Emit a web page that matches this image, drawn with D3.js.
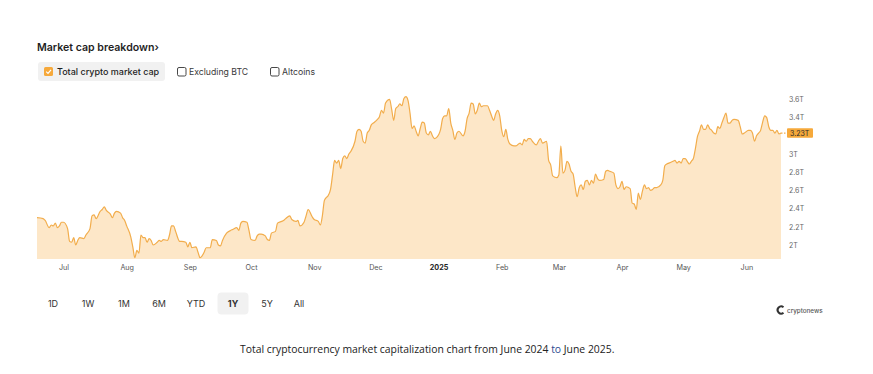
<!DOCTYPE html>
<html>
<head>
<meta charset="utf-8">
<script src="https://cdn.jsdelivr.net/npm/d3@7"></script>
<style>
  body { margin: 0; background: #fff; }
  svg { display: block; font-family: Inter, "Noto Sans", sans-serif; }
</style>
</head>
<body>
<div id="chart"></div>
<script>
// total crypto market cap, trillions USD
var dates = [
  "2024-06-18","2024-06-21","2024-06-22","2024-06-24","2024-06-25","2024-06-26","2024-06-27","2024-06-28","2024-06-29","2024-06-30",
  "2024-07-01","2024-07-03","2024-07-04","2024-07-05","2024-07-06","2024-07-07","2024-07-08","2024-07-09","2024-07-11","2024-07-12",
  "2024-07-14","2024-07-15","2024-07-16","2024-07-17","2024-07-19","2024-07-20","2024-07-21","2024-07-22","2024-07-24","2024-07-25",
  "2024-07-26","2024-07-27","2024-07-29","2024-07-30","2024-07-31","2024-08-01","2024-08-03","2024-08-04","2024-08-05","2024-08-06",
  "2024-08-07","2024-08-08","2024-08-09","2024-08-10","2024-08-11","2024-08-12","2024-08-13","2024-08-14","2024-08-16","2024-08-17",
  "2024-08-18","2024-08-19","2024-08-21","2024-08-22","2024-08-23","2024-08-24","2024-08-25","2024-08-27","2024-08-28","2024-08-30",
  "2024-08-31","2024-09-01","2024-09-02","2024-09-04","2024-09-05","2024-09-06","2024-09-07","2024-09-08","2024-09-09","2024-09-11",
  "2024-09-12","2024-09-14","2024-09-15","2024-09-16","2024-09-17","2024-09-19","2024-09-21","2024-09-22","2024-09-24","2024-09-25",
  "2024-09-26","2024-09-27","2024-09-29","2024-09-30","2024-10-01","2024-10-03","2024-10-04","2024-10-05","2024-10-06","2024-10-08",
  "2024-10-09","2024-10-10","2024-10-11","2024-10-13","2024-10-14","2024-10-16","2024-10-17","2024-10-18","2024-10-20","2024-10-21",
  "2024-10-23","2024-10-24","2024-10-25","2024-10-27","2024-10-28","2024-10-29","2024-10-31","2024-11-01","2024-11-03","2024-11-04",
  "2024-11-05","2024-11-06","2024-11-08","2024-11-09","2024-11-10","2024-11-11","2024-11-12","2024-11-13","2024-11-14","2024-11-15",
  "2024-11-16","2024-11-17","2024-11-18","2024-11-19","2024-11-21","2024-11-22","2024-11-23","2024-11-24","2024-11-25","2024-11-26",
  "2024-11-27","2024-11-28","2024-11-29","2024-11-30","2024-12-02","2024-12-03","2024-12-04","2024-12-05","2024-12-06","2024-12-08",
  "2024-12-09","2024-12-10","2024-12-11","2024-12-12","2024-12-13","2024-12-14","2024-12-15","2024-12-16","2024-12-17","2024-12-18",
  "2024-12-19","2024-12-20","2024-12-21","2024-12-22","2024-12-23","2024-12-24","2024-12-25","2024-12-26","2024-12-27","2024-12-28",
  "2024-12-29","2024-12-30","2024-12-31","2025-01-02","2025-01-03","2025-01-04","2025-01-05","2025-01-06","2025-01-07","2025-01-08",
  "2025-01-09","2025-01-10","2025-01-11","2025-01-13","2025-01-14","2025-01-15","2025-01-16","2025-01-17","2025-01-18","2025-01-19",
  "2025-01-20","2025-01-21","2025-01-22","2025-01-23","2025-01-25","2025-01-26","2025-01-27","2025-01-28","2025-01-29","2025-01-30",
  "2025-01-31","2025-02-01","2025-02-02","2025-02-03","2025-02-04","2025-02-05","2025-02-07","2025-02-08","2025-02-10","2025-02-11",
  "2025-02-12","2025-02-13","2025-02-14","2025-02-15","2025-02-16","2025-02-18","2025-02-19","2025-02-20","2025-02-21","2025-02-23",
  "2025-02-24","2025-02-25","2025-02-26","2025-02-28","2025-03-01","2025-03-02","2025-03-03","2025-03-04","2025-03-05","2025-03-06",
  "2025-03-07","2025-03-08","2025-03-09","2025-03-10","2025-03-11","2025-03-12","2025-03-13","2025-03-14","2025-03-15","2025-03-16",
  "2025-03-17","2025-03-18","2025-03-19","2025-03-20","2025-03-21","2025-03-23","2025-03-24","2025-03-25","2025-03-26","2025-03-28",
  "2025-03-29","2025-03-30","2025-03-31","2025-04-01","2025-04-02","2025-04-03","2025-04-05","2025-04-06","2025-04-07","2025-04-08",
  "2025-04-09","2025-04-10","2025-04-11","2025-04-12","2025-04-13","2025-04-14","2025-04-15","2025-04-16","2025-04-17","2025-04-18",
  "2025-04-20","2025-04-21","2025-04-22","2025-04-23","2025-04-24","2025-04-26","2025-04-27","2025-04-28","2025-04-29","2025-04-30",
  "2025-05-01","2025-05-02","2025-05-03","2025-05-04","2025-05-05","2025-05-06","2025-05-07","2025-05-08","2025-05-09","2025-05-10",
  "2025-05-11","2025-05-12","2025-05-13","2025-05-14","2025-05-15","2025-05-16","2025-05-17","2025-05-18","2025-05-19","2025-05-20",
  "2025-05-21","2025-05-22","2025-05-23","2025-05-24","2025-05-25","2025-05-26","2025-05-28","2025-05-29","2025-05-30","2025-05-31",
  "2025-06-02","2025-06-03","2025-06-04","2025-06-05","2025-06-06","2025-06-07","2025-06-08","2025-06-09","2025-06-10","2025-06-11",
  "2025-06-12","2025-06-13","2025-06-14","2025-06-15","2025-06-16","2025-06-17","2025-06-18"
];
var capT = [
  2.30,2.29,2.27,2.19,2.22,2.21,2.24,2.19,2.21,2.25,
  2.25,2.18,2.04,2.03,2.08,2.00,2.05,2.08,2.07,2.11,
  2.18,2.32,2.33,2.29,2.37,2.39,2.42,2.38,2.34,2.30,
  2.35,2.37,2.35,2.30,2.27,2.21,2.09,1.98,1.86,1.94,
  1.91,2.11,2.08,2.08,2.03,2.07,2.05,2.00,2.03,2.05,
  2.04,2.06,2.05,2.11,2.21,2.21,2.15,2.04,2.04,2.03,
  1.98,2.03,1.97,1.98,1.92,1.86,1.88,1.92,1.97,1.97,
  2.06,2.05,2.00,1.99,2.05,2.13,2.16,2.17,2.19,2.16,
  2.24,2.26,2.25,2.16,2.06,2.05,2.10,2.12,2.12,2.10,
  2.06,2.05,2.13,2.15,2.24,2.26,2.27,2.29,2.32,2.28,
  2.26,2.27,2.21,2.25,2.32,2.39,2.31,2.28,2.26,2.22,
  2.32,2.49,2.55,2.61,2.77,2.93,2.90,2.93,2.84,2.95,
  2.98,2.95,3.00,3.03,3.14,3.25,3.27,3.25,3.14,3.12,
  3.23,3.26,3.32,3.34,3.38,3.41,3.48,3.45,3.56,3.60,
  3.49,3.37,3.50,3.52,3.55,3.53,3.61,3.63,3.59,3.45,
  3.28,3.31,3.25,3.20,3.28,3.35,3.34,3.23,3.21,3.25,
  3.20,3.17,3.18,3.27,3.39,3.42,3.42,3.50,3.34,3.26,
  3.16,3.23,3.25,3.20,3.25,3.39,3.45,3.56,3.55,3.44,
  3.48,3.56,3.52,3.53,3.53,3.48,3.42,3.37,3.44,3.48,
  3.42,3.26,3.19,3.27,3.16,3.11,3.09,3.09,3.12,3.10,
  3.16,3.14,3.17,3.17,3.14,3.10,3.14,3.17,3.12,3.14,
  2.93,2.88,2.76,2.74,2.77,3.09,2.79,2.82,2.92,2.89,
  2.81,2.78,2.64,2.53,2.63,2.66,2.61,2.70,2.71,2.66,
  2.71,2.68,2.78,2.73,2.71,2.72,2.81,2.82,2.81,2.79,
  2.66,2.62,2.64,2.70,2.61,2.64,2.62,2.46,2.45,2.39,
  2.57,2.50,2.59,2.66,2.62,2.63,2.60,2.61,2.63,2.63,
  2.66,2.71,2.87,2.89,2.90,2.92,2.93,2.90,2.92,2.90,
  2.95,2.95,2.92,2.89,2.92,2.95,3.06,3.19,3.25,3.32,
  3.27,3.27,3.32,3.28,3.26,3.23,3.22,3.30,3.28,3.34,
  3.40,3.45,3.34,3.34,3.37,3.38,3.37,3.30,3.22,3.23,
  3.26,3.26,3.23,3.14,3.20,3.23,3.26,3.35,3.42,3.40,
  3.30,3.26,3.26,3.23,3.26,3.22,3.23
];
var yTicks = [2, 2.2, 2.4, 2.6, 2.8, 3, 3.4, 3.6];
var seriesNames = ["Total crypto market cap", "Excluding BTC", "Altcoins"];
var ranges = ["1D", "1W", "1M", "6M", "YTD", "1Y", "5Y", "All"];
var activeRange = "1Y";

var fullWidth = 873, fullHeight = 374;
var margin = {top: 90, right: 92, bottom: 115, left: 37};
var width = fullWidth - margin.left - margin.right;
var height = fullHeight - margin.top - margin.bottom;

var parse = d3.utcParse("%Y-%m-%d");
var data = dates.map(function(d, i) { return {date: parse(d), v: capT[i]}; });

var svg = d3.select("#chart").append("svg")
  .attr("width", fullWidth)
  .attr("height", fullHeight);

// title + series toggles
svg.append("text")
  .attr("x", 37).attr("y", 50.5)
  .attr("font-size", 10.6).attr("font-weight", 600).attr("fill", "#1f1f1f")
  .text("Market cap breakdown\u203A");

var legend = svg.append("g");
legend.append("rect").attr("x", 38).attr("y", 62).attr("width", 127).attr("height", 19)
  .attr("rx", 3).attr("fill", "#f1f1f1");
var legX = [44, 177, 270];
seriesNames.forEach(function(name, i) {
  var lg = legend.append("g").attr("transform", "translate(" + legX[i] + ",67)");
  if (i == 0) {
    lg.append("rect").attr("width", 9).attr("height", 9).attr("rx", 1.5).attr("fill", "#f6a93b");
    lg.append("path").attr("d", "M2.2,4.6 L4,6.4 L7,2.8").attr("fill", "none")
      .attr("stroke", "#fff").attr("stroke-width", 1.2);
  } else {
    lg.append("rect").attr("x", 0.5).attr("y", 0.5).attr("width", 8.5).attr("height", 8.5).attr("rx", 1.5)
      .attr("fill", "#fff").attr("stroke", "#333").attr("stroke-width", 0.9);
  }
  lg.append("text").attr("x", i == 0 ? 13 : 12).attr("y", 8)
    .attr("font-size", i == 0 ? 9 : 8.7).attr("font-weight", i == 0 ? 500 : 400)
    .attr("fill", i == 0 ? "#1f1f1f" : "#3a3a3a")
    .text(name);
});

var g = svg.append("g").attr("transform", "translate(" + margin.left + "," + margin.top + ")");

var xScale = d3.scaleUtc()
  .domain([data[0].date, data[data.length - 1].date])
  .range([0, width]);
var yScale = d3.scaleLinear()
  .domain([2 - 14 / 91, 3.6 + 9.4 / 91])   // plot runs a little past the 2T / 3.6T ticks
  .range([height, 0]);

var area = d3.area()
  .x(function(d) { return xScale(d.date); })
  .y0(height)
  .y1(function(d) { return yScale(d.v); })
  .curve(d3.curveMonotoneX);
var line = d3.line()
  .x(function(d) { return xScale(d.date); })
  .y(function(d) { return yScale(d.v); })
  .curve(d3.curveMonotoneX);

g.append("path").datum(data).attr("d", area).attr("fill", "#fde7c8");
g.append("path").datum(data).attr("d", line)
  .attr("fill", "none").attr("stroke", "#f2ad4c").attr("stroke-width", 1.2)
  .attr("stroke-linejoin", "round");

// x axis: month starts, January shows the year
var xAxis = d3.axisBottom(xScale)
  .ticks(d3.utcMonth.every(1))
  .tickSize(0).tickPadding(6)
  .tickFormat(function(d) { return d.getUTCMonth() == 0 ? d3.utcFormat("%Y")(d) : d3.utcFormat("%b")(d); });
var gx = g.append("g").attr("transform", "translate(0," + height + ")").call(xAxis);
gx.select(".domain").remove();
gx.selectAll("text")
  .attr("font-family", "Inter, sans-serif").attr("font-size", 7.2)
  .attr("fill", function(d) { return d.getUTCMonth() == 0 ? "#222" : "#555"; })
  .attr("font-weight", function(d) { return d.getUTCMonth() == 0 ? 700 : 400; });

// y axis on the right
var yAxis = d3.axisRight(yScale)
  .tickValues(yTicks).tickSize(0).tickPadding(8)
  .tickFormat(function(d) { return d + "T"; });
var gy = g.append("g").attr("transform", "translate(" + width + ",0)").call(yAxis);
gy.select(".domain").remove();
gy.selectAll("text").attr("font-family", "Inter, sans-serif").attr("font-size", 7).attr("fill", "#666");

// last value badge
var last = data[data.length - 1];
var ly = yScale(last.v);
g.append("line").attr("x1", width).attr("x2", width + 6).attr("y1", ly).attr("y2", ly)
  .attr("stroke", "#f2ad4c").attr("stroke-width", 1.2).attr("stroke-dasharray", "1.5,1.5");
g.append("rect").attr("x", width + 6).attr("y", ly - 4.8).attr("width", 26).attr("height", 9.6)
  .attr("rx", 1).attr("fill", "#f6a93b");
g.append("text").attr("x", width + 9).attr("y", ly + 2.6)
  .attr("font-size", 7).attr("fill", "#2b2b2b").text(last.v.toFixed(2) + "T");

// range buttons
var btnX = [53, 88, 124, 159, 196, 233, 267, 299];
var btns = svg.append("g");
ranges.forEach(function(r, i) {
  if (r == activeRange) {
    btns.append("rect").attr("x", btnX[i] - 15.5).attr("y", 292.5).attr("width", 31).attr("height", 22)
      .attr("rx", 4).attr("fill", "#f1f1f1");
  }
  btns.append("text").attr("x", btnX[i]).attr("y", 307)
    .attr("text-anchor", "middle").attr("font-size", 9)
    .attr("font-weight", r == activeRange ? 700 : 400)
    .attr("fill", "#333").text(r);
});

// watermark
var wm = svg.append("g").attr("transform", "translate(778,306)");
wm.append("path").attr("d", "M5.5,1.2 A3.6,3.6 0 1 0 5.5,6.8").attr("fill", "none")
  .attr("stroke", "#333").attr("stroke-width", 2);
wm.append("text").attr("x", 9).attr("y", 6.8).attr("font-size", 6.3).attr("font-weight", 500)
  .attr("fill", "#555").text("cryptonews");

// caption
var cap = svg.append("text").attr("x", 240).attr("y", 352.5)
  .attr("font-family", "'Open Sans', sans-serif").attr("font-size", 10.4).attr("fill", "#222");
cap.append("tspan").text("Total cryptocurrency market capitalization chart from June 2024 ");
cap.append("tspan").attr("fill", "#2b4a8f").text("to");
cap.append("tspan").text(" June 2025.");
</script>
</body>
</html>
